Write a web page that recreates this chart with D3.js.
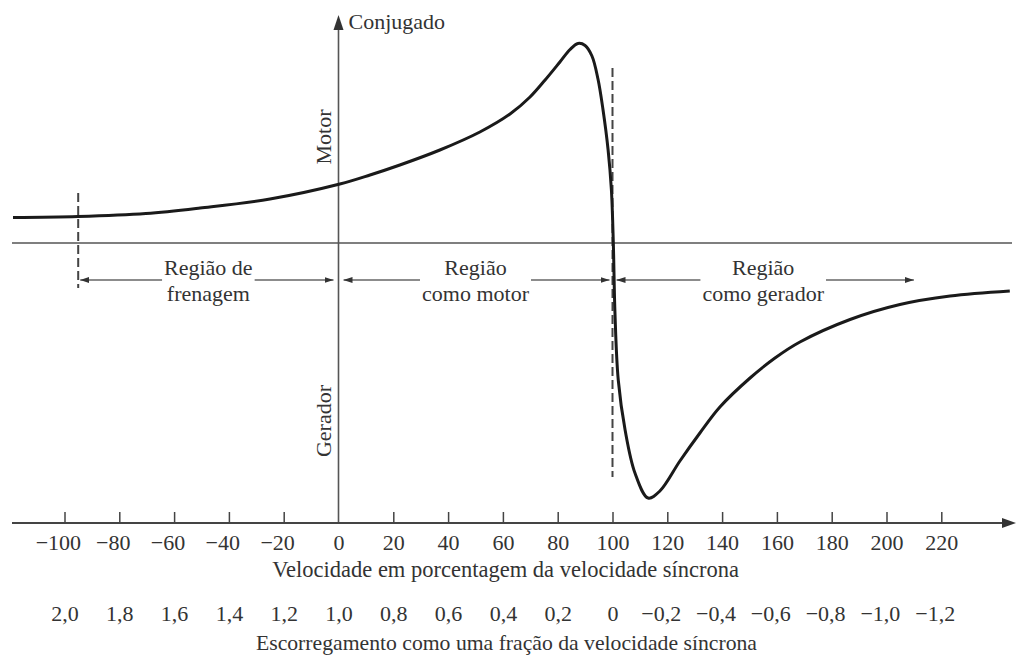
<!DOCTYPE html>
<html><head><meta charset="utf-8">
<script src="https://cdn.jsdelivr.net/npm/d3@7"></script>
<style>
html,body{margin:0;padding:0;background:#fff;}
svg{display:block;}
text{font-family:"Liberation Serif","DejaVu Serif",serif;fill:#333;}
</style></head><body>
<svg id="chart" width="1017" height="657"></svg>
<script>
// ---------- data ----------
const speedTicks = [-100,-80,-60,-40,-20,0,20,40,60,80,100,120,140,160,180,200,220];
const speedTickLabels = ["−100","−80","−60","−40","−20","0","20","40","60","80","100","120","140","160","180","200","220"];
const slipTicks = [2.0,1.8,1.6,1.4,1.2,1.0,0.8,0.6,0.4,0.2,0,-0.2,-0.4,-0.6,-0.8,-1.0,-1.2];
const slipTickLabels = ["2,0","1,8","1,6","1,4","1,2","1,0","0,8","0,6","0,4","0,2","0","−0,2","−0,4","−0,6","−0,8","−1,0","−1,2"];

// torque-speed curve (speed in % of synchronous speed, torque in % of reference)
const curveSpeed  = [-118.8, -95.1, -70.3, -50.5, -25, 0.5, 11.5, 22.4, 37, 51.6, 62.6, 69.9, 75.4, 80.8, 84.5, 87.4, 90, 92.5, 94.7, 96.5, 98.4, 99.6, 100.3, 100.9, 102.1, 104.6, 108.2, 113, 117.3, 124.6, 131.9, 139.2, 150.2, 159.3, 168.4, 186.7, 204.9, 223.2, 245];
const curveTorque = [25.5, 26.5, 29.5, 35, 44, 59, 68, 78, 93, 111, 129, 146, 163, 181, 193.5, 199.5, 197.5, 187, 164, 134, 93, 53, 0, -70, -137, -187, -230, -255, -248, -218, -190, -164, -135, -115, -99, -76.5, -61.5, -53, -48];

const regionLine1 = ["Região de", "Região", "Região"];
const regionLine2 = ["frenagem", "como motor", "como gerador"];
const regionStart = [-95, 0, 100];
const regionEnd   = [0, 100, 210];

const brakeSpeed = -95;
const syncSpeed = 100;

// ---------- scales ----------
const svg = d3.select("#chart");
const x = d3.scaleLinear().domain([-100, 220]).range([64.5, 941.3]);
const xs = d3.scaleLinear().domain([2.0, -1.2]).range([64.5, 941.3]);
const y = d3.scaleLinear().domain([0, 200]).range([243, 43]);

const axisY = y(-280);   // baseline of speed axis
const axisTop = y(228);
const font = '"Liberation Serif","DejaVu Serif",serif';

// zero torque line
svg.append("line")
  .attr("x1", 12).attr("x2", 1012)
  .attr("y1", y(0)).attr("y2", y(0))
  .attr("stroke", "#555").attr("stroke-width", 1.5);

// vertical torque axis
svg.append("line")
  .attr("x1", x(0)).attr("x2", x(0))
  .attr("y1", axisY).attr("y2", axisTop + 12)
  .attr("stroke", "#555").attr("stroke-width", 1.6);
svg.append("path")
  .attr("d", `M${x(0)},${axisTop} L${x(0)-5},${axisTop+15} L${x(0)+5},${axisTop+15} Z`)
  .attr("fill", "#333");

// horizontal axis line + arrow
svg.append("line")
  .attr("x1", 12).attr("x2", 1004)
  .attr("y1", axisY).attr("y2", axisY)
  .attr("stroke", "#444").attr("stroke-width", 1.8);
svg.append("path")
  .attr("d", `M1016,${axisY} L1002,${axisY-5} L1002,${axisY+5} Z`)
  .attr("fill", "#333");

// speed axis
const gx = svg.append("g").attr("transform", `translate(0,${axisY})`)
  .call(d3.axisBottom(x).tickValues(speedTicks)
    .tickFormat((d, i) => speedTickLabels[i])
    .tickSizeInner(-11).tickSizeOuter(0).tickPadding(11));
gx.select(".domain").remove();
gx.attr("font-family", font).attr("font-size", 22);
gx.selectAll(".tick line").attr("stroke", "#444").attr("stroke-width", 1.5)
  .filter(d => d === 0).remove();
gx.selectAll(".tick text").attr("fill", "#333")
  .attr("dx", (d, i) => speedTickLabels[i].startsWith("−") ? "-0.3em" : null);

// slip axis
const gs = svg.append("g").attr("transform", `translate(0,${axisY + 68})`)
  .call(d3.axisBottom(xs).tickValues(slipTicks)
    .tickFormat((d, i) => slipTickLabels[i])
    .tickSize(0).tickPadding(14));
gs.select(".domain").remove();
gs.attr("font-family", font).attr("font-size", 22);
gs.selectAll(".tick text").attr("fill", "#333")
  .attr("dx", (d, i) => slipTickLabels[i].startsWith("−") ? "-0.3em" : null);

// axis titles
svg.append("text").attr("x", x(61)).attr("y", 577).attr("text-anchor", "middle")
  .attr("font-size", 22.5).text("Velocidade em porcentagem da velocidade síncrona");
svg.append("text").attr("x", x(61.3)).attr("y", 650).attr("text-anchor", "middle")
  .attr("font-size", 21.7).text("Escorregamento como uma fração da velocidade síncrona");
svg.append("text").attr("x", x(0) + 10).attr("y", 29)
  .attr("font-size", 22).text("Conjugado");
svg.append("text").attr("transform", `translate(${x(0) - 8},${y(106)}) rotate(-90)`)
  .attr("text-anchor", "middle").attr("font-size", 22).text("Motor");
svg.append("text").attr("transform", `translate(${x(0) - 8},${y(-178)}) rotate(-90)`)
  .attr("text-anchor", "middle").attr("font-size", 22).text("Gerador");

// dashed limit lines
svg.append("line")
  .attr("x1", x(brakeSpeed)).attr("x2", x(brakeSpeed))
  .attr("y1", y(50)).attr("y2", y(-45))
  .attr("stroke", "#444").attr("stroke-width", 2).attr("stroke-dasharray", "9,4");
svg.append("line")
  .attr("x1", x(syncSpeed)).attr("x2", x(syncSpeed))
  .attr("y1", y(175)).attr("y2", y(-234))
  .attr("stroke", "#444").attr("stroke-width", 2).attr("stroke-dasharray", "9,4");

// region labels with arrows
const defs = svg.append("defs");
defs.append("marker").attr("id", "ah")
  .attr("viewBox", "0 0 9 6").attr("refX", 9).attr("refY", 3)
  .attr("markerWidth", 9).attr("markerHeight", 6)
  .attr("markerUnits", "userSpaceOnUse").attr("orient", "auto")
  .append("path").attr("d", "M0,0 L9,3 L0,6 Z").attr("fill", "#333");

const arrowY = 280;
const tipOffsetStart = [2, 5, 4];
const tipOffsetEnd = [5, 3, 0];
regionLine1.forEach((l1, i) => {
  const cx = x((regionStart[i] + regionEnd[i]) / 2);
  const t1 = svg.append("text").attr("x", cx).attr("y", 275).attr("text-anchor", "middle")
    .attr("font-size", 22).text(l1);
  const t2 = svg.append("text").attr("x", cx).attr("y", 301).attr("text-anchor", "middle")
    .attr("font-size", 22).text(regionLine2[i]);
  const w = Math.max(t1.node().getComputedTextLength(), t2.node().getComputedTextLength());
  svg.append("line")
    .attr("x1", cx - w / 2 - 2).attr("x2", x(regionStart[i]) + tipOffsetStart[i])
    .attr("y1", arrowY).attr("y2", arrowY)
    .attr("stroke", "#666").attr("stroke-width", 1.3).attr("marker-end", "url(#ah)");
  svg.append("line")
    .attr("x1", cx + w / 2 + 2).attr("x2", x(regionEnd[i]) - tipOffsetEnd[i])
    .attr("y1", arrowY).attr("y2", arrowY)
    .attr("stroke", "#666").attr("stroke-width", 1.3).attr("marker-end", "url(#ah)");
});

// torque-speed curve
const pts = curveSpeed.map((s, i) => [s, curveTorque[i]]);
svg.append("path").datum(pts)
  .attr("d", d3.line().x(d => x(d[0])).y(d => y(d[1])).curve(d3.curveCatmullRom.alpha(0.5)))
  .attr("fill", "none").attr("stroke", "#1a1a1a").attr("stroke-width", 3)
  .attr("stroke-linejoin", "round");
</script>
</body></html>
